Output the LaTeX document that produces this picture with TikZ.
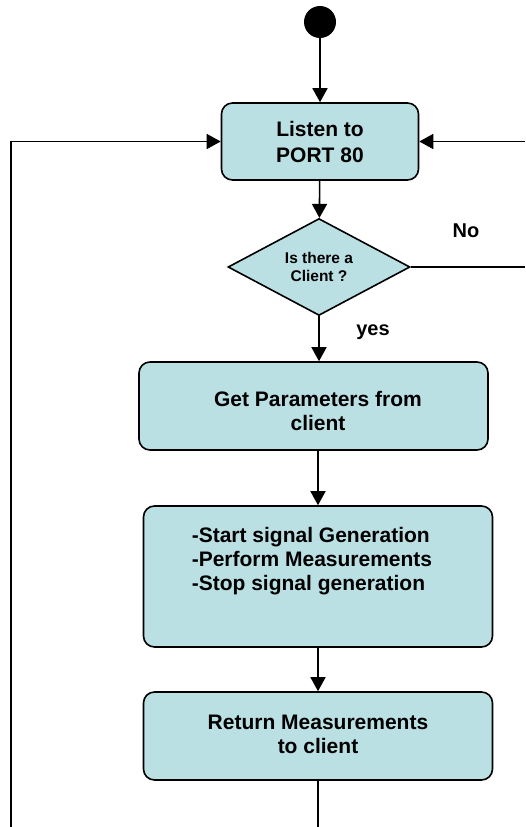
\documentclass[tikz,border=0pt]{standalone}
\usepackage{fontspec}
\setmainfont{Liberation Sans}
\usetikzlibrary{arrows.meta,shapes.geometric}
\definecolor{boxfill}{RGB}{187,224,228}
\begin{document}
\begin{tikzpicture}[x=1pt,y=-1pt,
  every node/.style={font=\bfseries},
  procbox/.style={draw=black, line width=1.6pt, fill=boxfill, rounded corners=11pt,
    inner sep=0pt, align=center},
  txt/.style={font=\fontsize{21}{24}\selectfont\bfseries, align=center, inner sep=0pt},
  conn/.style={line width=1.6pt},
  arr/.style={line width=1.6pt, -{Triangle[length=14pt,width=15pt]}}]
\useasboundingbox (0,0) rectangle (525,827);

\node[circle, fill=black, minimum size=32pt, inner sep=0pt] (start) at (320,22) {};

\node[procbox, minimum width=197pt, minimum height=77pt,
  font=\fontsize{21}{26}\selectfont\bfseries] (listen) at (320,141.5) {Listen to\\PORT 80};

\node[diamond, draw=black, line width=1.6pt, fill=boxfill, minimum width=182pt,
  minimum height=88pt, inner sep=0pt, align=center,
  font=\fontsize{15.5}{17.5}\selectfont\bfseries] (dec) at (319,267) {Is there a\\Client ?};

\node[procbox, minimum width=349pt, minimum height=88pt] (getp) at (313.5,406) {};
\node[txt] (getpt) at (318,411) {Get Parameters from\\client};

\node[procbox, minimum width=349pt, minimum height=141pt] (meas) at (318,576.5) {};
\node[txt, align=left] (meast) at (312,561) {-Start signal Generation\\-Perform Measurements\\-Stop signal generation};

\node[procbox, minimum width=349pt, minimum height=88pt] (ret) at (318,736) {};
\node[txt] (rett) at (318,734) {Return Measurements\\to client};

\node[font=\fontsize{20}{24}\selectfont\bfseries, inner sep=0pt] (no) at (466,231) {No};
\node[font=\fontsize{20}{24}\selectfont\bfseries, inner sep=0pt] (yes) at (373,332) {yes};

\coordinate (noR) at (525,267);
\coordinate (backR) at (525,141.5);
\coordinate (retB) at (318,827);
\coordinate (loopB) at (11,827);

\draw[arr] (start) -- (listen);
\draw[arr] (listen) -- (dec);
\draw[arr] (dec.south) -- (dec.south |- getp.north);
\draw[conn] (dec.east) -- (noR);
\draw[arr] (backR) -- (listen.east);
\draw[arr] (meas.north |- getp.south) -- (meas.north);
\draw[arr] (meas.south) -- (ret.north);
\draw[conn] (ret.south) -- (retB);
\draw[arr] (loopB) |- (listen.west);
\end{tikzpicture}
\end{document}
